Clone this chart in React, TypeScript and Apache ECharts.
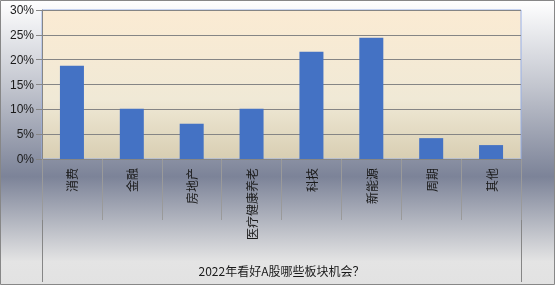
import React, { useEffect, useRef } from "react";
import * as echarts from "echarts";

const categories = ["消费", "金融", "房地产", "医疗健康养老", "科技", "新能源", "周期", "其他"];
const values = [18.8, 10.1, 7.1, 10.1, 21.6, 24.4, 4.2, 2.8];
const axisTitle = ["2022年看好A股哪些板块机会？"];
const yMin = 0;
const yMax = 30;
const yStep = 5;

const FONT = "'Liberation Sans', 'Noto Sans CJK SC', sans-serif";

export default function App() {
  const ref = useRef<HTMLDivElement>(null);
  useEffect(() => {
    if (!ref.current) return;
    const chart = echarts.init(ref.current, null, { renderer: "svg" });
    chart.setOption({
      animation: false,
      textStyle: { fontFamily: FONT },
      graphic: [
        {
          type: "rect",
          z: -10,
          silent: true,
          shape: { x: 0.5, y: 0.5, width: 554, height: 284 },
          style: {
            fill: new echarts.graphic.LinearGradient(0, 0, 0, 1, [
              { offset: 0, color: "#ffffff" },
              { offset: 0.3, color: "#c3c6cf" },
              { offset: 0.62, color: "#7c8398" },
              { offset: 0.92, color: "#e4e4e4" },
              { offset: 1, color: "#e2e2e2" },
            ]),
            stroke: "#878787",
            lineWidth: 1,
          },
        },
      ],
      grid: {
        left: 42,
        top: 10,
        right: 34,
        bottom: 126,
        show: true,
        backgroundColor: new echarts.graphic.LinearGradient(0, 0, 0, 1, [
          { offset: 0, color: "#fbebd3" },
          { offset: 0.6, color: "#f0e9d6" },
          { offset: 1, color: "#d8ceb2" },
        ]),
        borderColor: "#98b0e8",
        borderWidth: 1,
      },
      xAxis: [
        {
          type: "category",
          data: categories,
          position: "bottom",
          axisLine: { show: true, lineStyle: { color: "#868686", width: 1 } },
          axisTick: { show: true, length: 61, interval: 0, lineStyle: { color: "#9a9a9a" } },
          axisLabel: {
            interval: 0,
            rotate: 90,
            margin: 9,
            fontSize: 12,
            color: "#1a1a1a",
            fontFamily: "'Noto Sans CJK SC', sans-serif",
          },
        },
        {
          type: "category",
          data: axisTitle,
          position: "bottom",
          offset: 61,
          axisLine: { show: false },
          axisTick: { show: true, length: 62, lineStyle: { color: "#868686" } },
          axisLabel: {
            margin: 44,
            fontSize: 12,
            color: "#1a1a1a",
            fontFamily: "'Noto Sans CJK SC', sans-serif",
          },
        },
      ],
      yAxis: {
        type: "value",
        min: yMin,
        max: yMax,
        interval: yStep,
        axisLine: { show: true, lineStyle: { color: "#868686" } },
        axisTick: { show: true, length: 6, lineStyle: { color: "#868686" } },
        axisLabel: {
          formatter: "{value}%",
          fontSize: 12,
          margin: 8,
          color: "#1a1a1a",
        },
        splitLine: { show: true, lineStyle: { color: "#858585", width: 1 } },
      },
      series: [
        {
          type: "bar",
          data: values,
          xAxisIndex: 0,
          barWidth: 24,
          itemStyle: { color: "#4472c4" },
        },
      ],
    });
    return () => chart.dispose();
  }, []);
  return (
    <div
      ref={ref}
      style={{ position: "fixed", left: 0, top: 0, width: 555, height: 285 }}
    />
  );
}
